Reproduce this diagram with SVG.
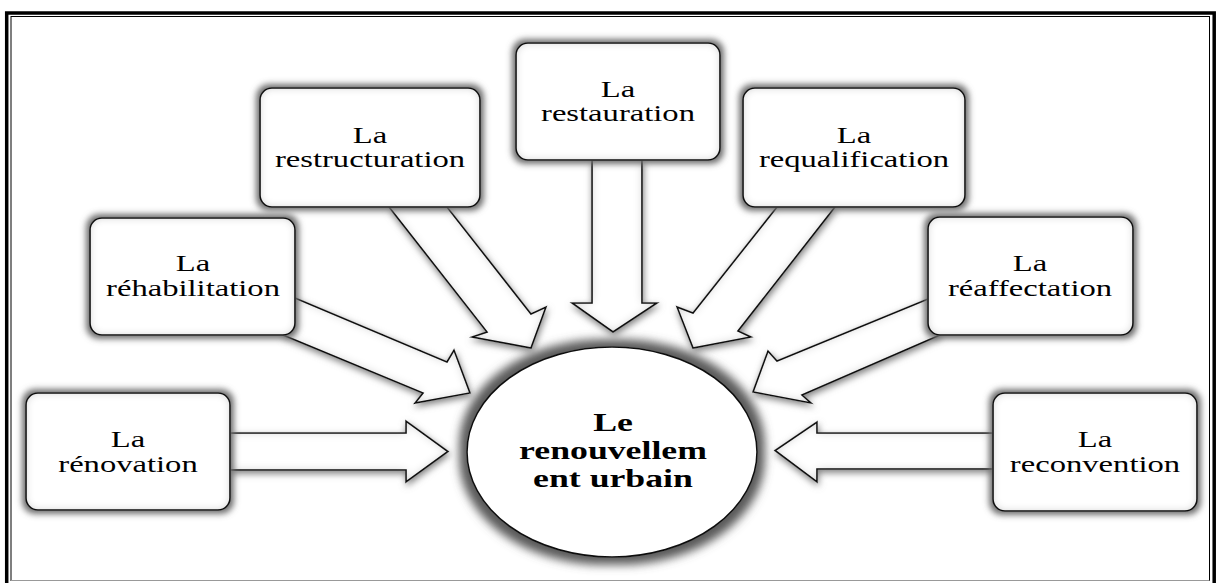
<svg xmlns="http://www.w3.org/2000/svg" width="1217" height="583" viewBox="0 0 1217 583">
<style>
.box{fill:#fff;stroke:#111;stroke-width:1.6}
.arr{fill:#fff;stroke:#111;stroke-width:1.6;stroke-linejoin:miter}
.t{font-family:"Liberation Serif","Times New Roman",serif;font-size:24px;fill:#000;text-anchor:middle}
.tb{font-family:"Liberation Serif","Times New Roman",serif;font-size:25px;font-weight:bold;fill:#000;text-anchor:middle}
</style>
<defs>
<filter id="glow" x="-20%" y="-20%" width="140%" height="140%">
<feMorphology in="SourceAlpha" operator="dilate" radius="3" result="d"/>
<feGaussianBlur in="d" stdDeviation="3" result="b"/>
<feFlood flood-color="#6a6a6a"/>
<feComposite in2="b" operator="in" result="s"/>
<feMerge result="base"><feMergeNode in="s"/><feMergeNode in="SourceGraphic"/></feMerge>
<feGaussianBlur in="SourceAlpha" stdDeviation="4" result="ib"/>
<feComposite in="SourceAlpha" in2="ib" operator="out" result="inner"/>
<feFlood flood-color="#c4c4c4"/>
<feComposite in2="inner" operator="in" result="innerc"/>
<feBlend in="innerc" in2="base" mode="multiply"/>
</filter>
<filter id="eglow" x="-20%" y="-20%" width="140%" height="140%">
<feMorphology in="SourceAlpha" operator="dilate" radius="7" result="d"/>
<feGaussianBlur in="d" stdDeviation="5" result="b"/>
<feFlood flood-color="#5a5a5a"/>
<feComposite in2="b" operator="in" result="s"/>
<feMerge><feMergeNode in="s"/><feMergeNode in="SourceGraphic"/></feMerge>
</filter>
<filter id="ashadow" x="-20%" y="-20%" width="140%" height="140%">
<feGaussianBlur in="SourceAlpha" stdDeviation="3.5" result="b"/>
<feOffset in="b" dx="1" dy="3" result="o"/>
<feFlood flood-color="#808080"/>
<feComposite in2="o" operator="in" result="s"/>
<feMerge result="base"><feMergeNode in="s"/><feMergeNode in="SourceGraphic"/></feMerge>
<feGaussianBlur in="SourceAlpha" stdDeviation="5" result="ib"/>
<feComposite in="SourceAlpha" in2="ib" operator="out" result="inner"/>
<feFlood flood-color="#c8c8c8"/>
<feComposite in2="inner" operator="in" result="innerc"/>
<feBlend in="innerc" in2="base" mode="multiply"/>
</filter>
</defs>
<rect width="1217" height="583" fill="#fff"/>
<g id="frame">
<rect x="6.7" y="13" width="1207.5" height="600" fill="none" stroke="#000" stroke-width="3.5"/>
<rect x="11" y="16.5" width="1198.5" height="564" fill="none" stroke="#000" stroke-width="1"/>
<line x1="11" y1="580.5" x2="1209.5" y2="580.5" stroke="#999" stroke-width="1"/>
</g>
<g id="connectors" filter="url(#ashadow)">
<polygon class="arr" points="230,433 406,433 406,421 448,451.5 406,482 406,470 230,470"/>
<polygon class="arr" points="993,433 817,433 817,422 775,450.5 817,482 817,469 993,469"/>
<polygon class="arr" points="592,160 592,303 572,303 613,332 657,303 642,303 642,160"/>
<polygon class="arr" points="389,207 487,332 472,337 531,348 546,307 531,314 447,207"/>
<polygon class="arr" points="777,207 693,313 677,307 693,348 751,337 738,331 835,207"/>
<polygon class="arr" points="295,298 447,362 454,350 470,393 415,403 423,393 283,335"/>
<polygon class="arr" points="928,299 777,361 768,351 753,392 811,403 802,395 940,335"/>
</g>
<g id="node-renovation">
<rect class="box" x="26" y="393" width="204" height="117" rx="12" filter="url(#glow)"/>
<text class="t" transform="translate(128,447) scale(1.36,1)"><tspan x="0" y="0">La</tspan><tspan x="0" y="25">rénovation</tspan></text>
</g>
<g id="node-rehabilitation">
<rect class="box" x="90" y="218" width="205" height="117" rx="12" filter="url(#glow)"/>
<text class="t" transform="translate(193,271) scale(1.36,1)"><tspan x="0" y="0">La</tspan><tspan x="0" y="25">réhabilitation</tspan></text>
</g>
<g id="node-restructuration">
<rect class="box" x="260" y="88" width="220" height="119" rx="12" filter="url(#glow)"/>
<text class="t" transform="translate(370,142.5) scale(1.36,1)"><tspan x="0" y="0">La</tspan><tspan x="0" y="25">restructuration</tspan></text>
</g>
<g id="node-restauration">
<rect class="box" x="516" y="43" width="204" height="117" rx="12" filter="url(#glow)"/>
<text class="t" transform="translate(618,96.5) scale(1.36,1)"><tspan x="0" y="0">La</tspan><tspan x="0" y="25">restauration</tspan></text>
</g>
<g id="node-requalification">
<rect class="box" x="743" y="88" width="222" height="119" rx="12" filter="url(#glow)"/>
<text class="t" transform="translate(854,142.5) scale(1.36,1)"><tspan x="0" y="0">La</tspan><tspan x="0" y="25">requalification</tspan></text>
</g>
<g id="node-reaffectation">
<rect class="box" x="928" y="217" width="205" height="118" rx="12" filter="url(#glow)"/>
<text class="t" transform="translate(1030,271) scale(1.36,1)"><tspan x="0" y="0">La</tspan><tspan x="0" y="25">réaffectation</tspan></text>
</g>
<g id="node-reconvention">
<rect class="box" x="993" y="393" width="204" height="118" rx="12" filter="url(#glow)"/>
<text class="t" transform="translate(1095,447) scale(1.36,1)"><tspan x="0" y="0">La</tspan><tspan x="0" y="25">reconvention</tspan></text>
</g>
<g id="node-center">
<ellipse cx="612" cy="452" rx="145" ry="105" fill="#fff" stroke="#111" stroke-width="1.6" filter="url(#eglow)"/>
<text class="tb" transform="translate(613,431) scale(1.43,1)"><tspan x="0" y="0">Le</tspan><tspan x="0" y="28">renouvellem</tspan><tspan x="0" y="56">ent urbain</tspan></text>
</g>
</svg>
